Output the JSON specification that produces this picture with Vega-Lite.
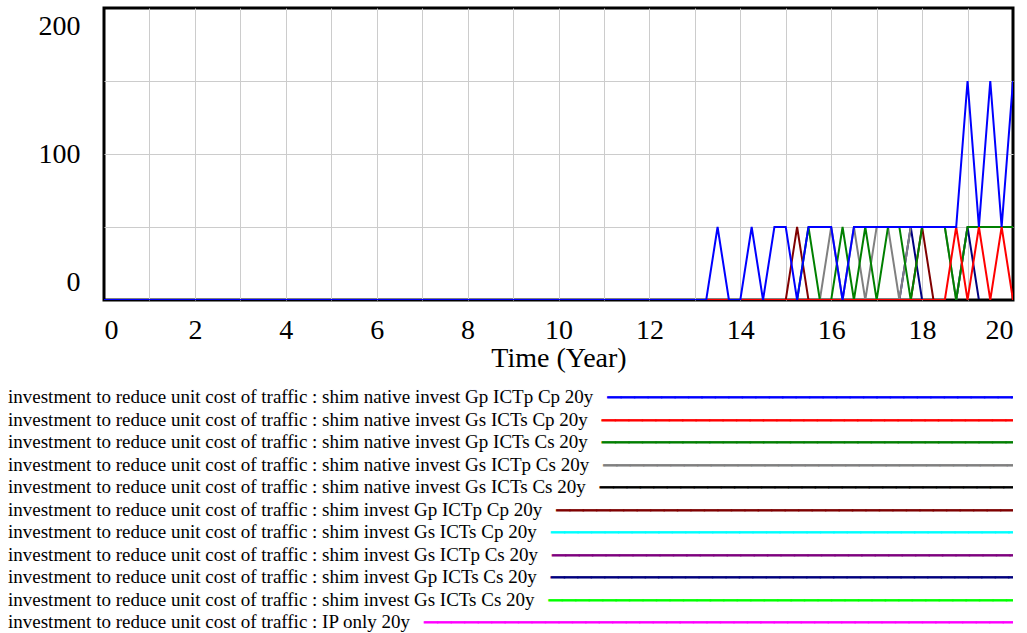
{
  "$schema": "https://vega.github.io/schema/vega-lite/v6.json",
  "padding": {"left": 6, "top": 6, "right": 0, "bottom": 0},
  "background": "white",
  "spacing": 12,
  "config": {
    "font": "Liberation Serif",
    "view": {"stroke": "black", "strokeWidth": 3},
    "axis": {
      "labelFont": "Liberation Serif", "titleFont": "Liberation Serif",
      "labelFontSize": 28, "titleFontSize": 28, "labelColor": "black", "titleColor": "black",
      "titleFontWeight": "normal", "ticks": false, "domain": false,
      "gridColor": "#cccccc", "gridWidth": 1
    }
  },
  "datasets": {
    "runs": [
      {"run": "IP only 20y", "t": 0, "v": 0}, {"run": "IP only 20y", "t": 20, "v": 0},
      {"run": "shim invest Gs ICTs Cs 20y", "t": 0, "v": 0}, {"run": "shim invest Gs ICTs Cs 20y", "t": 20, "v": 0},
      {"run": "shim invest Gs ICTp Cs 20y", "t": 0, "v": 0}, {"run": "shim invest Gs ICTp Cs 20y", "t": 20, "v": 0},
      {"run": "shim invest Gs ICTs Cp 20y", "t": 0, "v": 0}, {"run": "shim invest Gs ICTs Cp 20y", "t": 20, "v": 0},
      {"run": "shim invest Gp ICTs Cs 20y", "t": 0, "v": 0},
      {"run": "shim invest Gp ICTs Cs 20y", "t": 13, "v": 0}, {"run": "shim invest Gp ICTs Cs 20y", "t": 13.25, "v": 0},
      {"run": "shim invest Gp ICTs Cs 20y", "t": 13.5, "v": 0}, {"run": "shim invest Gp ICTs Cs 20y", "t": 13.75, "v": 0},
      {"run": "shim invest Gp ICTs Cs 20y", "t": 14, "v": 0}, {"run": "shim invest Gp ICTs Cs 20y", "t": 14.25, "v": 0},
      {"run": "shim invest Gp ICTs Cs 20y", "t": 14.5, "v": 0}, {"run": "shim invest Gp ICTs Cs 20y", "t": 14.75, "v": 0},
      {"run": "shim invest Gp ICTs Cs 20y", "t": 15, "v": 0}, {"run": "shim invest Gp ICTs Cs 20y", "t": 15.25, "v": 0},
      {"run": "shim invest Gp ICTs Cs 20y", "t": 15.5, "v": 0}, {"run": "shim invest Gp ICTs Cs 20y", "t": 15.75, "v": 0},
      {"run": "shim invest Gp ICTs Cs 20y", "t": 16, "v": 0}, {"run": "shim invest Gp ICTs Cs 20y", "t": 16.25, "v": 0},
      {"run": "shim invest Gp ICTs Cs 20y", "t": 16.5, "v": 0}, {"run": "shim invest Gp ICTs Cs 20y", "t": 16.75, "v": 0},
      {"run": "shim invest Gp ICTs Cs 20y", "t": 17, "v": 0}, {"run": "shim invest Gp ICTs Cs 20y", "t": 17.25, "v": 0},
      {"run": "shim invest Gp ICTs Cs 20y", "t": 17.5, "v": 0}, {"run": "shim invest Gp ICTs Cs 20y", "t": 17.75, "v": 50},
      {"run": "shim invest Gp ICTs Cs 20y", "t": 18, "v": 0}, {"run": "shim invest Gp ICTs Cs 20y", "t": 18.25, "v": 0},
      {"run": "shim invest Gp ICTs Cs 20y", "t": 18.5, "v": 0}, {"run": "shim invest Gp ICTs Cs 20y", "t": 18.75, "v": 0},
      {"run": "shim invest Gp ICTs Cs 20y", "t": 19, "v": 50}, {"run": "shim invest Gp ICTs Cs 20y", "t": 19.25, "v": 0},
      {"run": "shim invest Gp ICTs Cs 20y", "t": 19.5, "v": 0}, {"run": "shim invest Gp ICTs Cs 20y", "t": 19.75, "v": 0},
      {"run": "shim invest Gp ICTs Cs 20y", "t": 20, "v": 0},
      {"run": "shim invest Gp ICTp Cp 20y", "t": 0, "v": 0},
      {"run": "shim invest Gp ICTp Cp 20y", "t": 13, "v": 0}, {"run": "shim invest Gp ICTp Cp 20y", "t": 13.25, "v": 0},
      {"run": "shim invest Gp ICTp Cp 20y", "t": 13.5, "v": 0}, {"run": "shim invest Gp ICTp Cp 20y", "t": 13.75, "v": 0},
      {"run": "shim invest Gp ICTp Cp 20y", "t": 14, "v": 0}, {"run": "shim invest Gp ICTp Cp 20y", "t": 14.25, "v": 0},
      {"run": "shim invest Gp ICTp Cp 20y", "t": 14.5, "v": 0}, {"run": "shim invest Gp ICTp Cp 20y", "t": 14.75, "v": 0},
      {"run": "shim invest Gp ICTp Cp 20y", "t": 15, "v": 0}, {"run": "shim invest Gp ICTp Cp 20y", "t": 15.25, "v": 50},
      {"run": "shim invest Gp ICTp Cp 20y", "t": 15.5, "v": 0}, {"run": "shim invest Gp ICTp Cp 20y", "t": 15.75, "v": 0},
      {"run": "shim invest Gp ICTp Cp 20y", "t": 16, "v": 0}, {"run": "shim invest Gp ICTp Cp 20y", "t": 16.25, "v": 0},
      {"run": "shim invest Gp ICTp Cp 20y", "t": 16.5, "v": 0}, {"run": "shim invest Gp ICTp Cp 20y", "t": 16.75, "v": 0},
      {"run": "shim invest Gp ICTp Cp 20y", "t": 17, "v": 0}, {"run": "shim invest Gp ICTp Cp 20y", "t": 17.25, "v": 0},
      {"run": "shim invest Gp ICTp Cp 20y", "t": 17.5, "v": 0}, {"run": "shim invest Gp ICTp Cp 20y", "t": 17.75, "v": 0},
      {"run": "shim invest Gp ICTp Cp 20y", "t": 18, "v": 50}, {"run": "shim invest Gp ICTp Cp 20y", "t": 18.25, "v": 0},
      {"run": "shim invest Gp ICTp Cp 20y", "t": 18.5, "v": 0}, {"run": "shim invest Gp ICTp Cp 20y", "t": 18.75, "v": 0},
      {"run": "shim invest Gp ICTp Cp 20y", "t": 19, "v": 0}, {"run": "shim invest Gp ICTp Cp 20y", "t": 19.25, "v": 0},
      {"run": "shim invest Gp ICTp Cp 20y", "t": 19.5, "v": 0}, {"run": "shim invest Gp ICTp Cp 20y", "t": 19.75, "v": 0},
      {"run": "shim invest Gp ICTp Cp 20y", "t": 20, "v": 0},
      {"run": "shim native invest Gs ICTs Cs 20y", "t": 0, "v": 0}, {"run": "shim native invest Gs ICTs Cs 20y", "t": 20, "v": 0},
      {"run": "shim native invest Gs ICTp Cs 20y", "t": 0, "v": 0},
      {"run": "shim native invest Gs ICTp Cs 20y", "t": 13, "v": 0}, {"run": "shim native invest Gs ICTp Cs 20y", "t": 13.25, "v": 0},
      {"run": "shim native invest Gs ICTp Cs 20y", "t": 13.5, "v": 0}, {"run": "shim native invest Gs ICTp Cs 20y", "t": 13.75, "v": 0},
      {"run": "shim native invest Gs ICTp Cs 20y", "t": 14, "v": 0}, {"run": "shim native invest Gs ICTp Cs 20y", "t": 14.25, "v": 0},
      {"run": "shim native invest Gs ICTp Cs 20y", "t": 14.5, "v": 0}, {"run": "shim native invest Gs ICTp Cs 20y", "t": 14.75, "v": 0},
      {"run": "shim native invest Gs ICTp Cs 20y", "t": 15, "v": 0}, {"run": "shim native invest Gs ICTp Cs 20y", "t": 15.25, "v": 0},
      {"run": "shim native invest Gs ICTp Cs 20y", "t": 15.5, "v": 0}, {"run": "shim native invest Gs ICTp Cs 20y", "t": 15.75, "v": 0},
      {"run": "shim native invest Gs ICTp Cs 20y", "t": 16, "v": 50}, {"run": "shim native invest Gs ICTp Cs 20y", "t": 16.25, "v": 0},
      {"run": "shim native invest Gs ICTp Cs 20y", "t": 16.5, "v": 50}, {"run": "shim native invest Gs ICTp Cs 20y", "t": 16.75, "v": 0},
      {"run": "shim native invest Gs ICTp Cs 20y", "t": 17, "v": 50}, {"run": "shim native invest Gs ICTp Cs 20y", "t": 17.25, "v": 50},
      {"run": "shim native invest Gs ICTp Cs 20y", "t": 17.5, "v": 0}, {"run": "shim native invest Gs ICTp Cs 20y", "t": 17.75, "v": 50},
      {"run": "shim native invest Gs ICTp Cs 20y", "t": 18, "v": 50}, {"run": "shim native invest Gs ICTp Cs 20y", "t": 18.25, "v": 50},
      {"run": "shim native invest Gs ICTp Cs 20y", "t": 18.5, "v": 50}, {"run": "shim native invest Gs ICTp Cs 20y", "t": 18.75, "v": 0},
      {"run": "shim native invest Gs ICTp Cs 20y", "t": 19, "v": 50}, {"run": "shim native invest Gs ICTp Cs 20y", "t": 19.25, "v": 50},
      {"run": "shim native invest Gs ICTp Cs 20y", "t": 19.5, "v": 50}, {"run": "shim native invest Gs ICTp Cs 20y", "t": 19.75, "v": 50},
      {"run": "shim native invest Gs ICTp Cs 20y", "t": 20, "v": 50},
      {"run": "shim native invest Gp ICTs Cs 20y", "t": 0, "v": 0},
      {"run": "shim native invest Gp ICTs Cs 20y", "t": 13, "v": 0}, {"run": "shim native invest Gp ICTs Cs 20y", "t": 13.25, "v": 0},
      {"run": "shim native invest Gp ICTs Cs 20y", "t": 13.5, "v": 0}, {"run": "shim native invest Gp ICTs Cs 20y", "t": 13.75, "v": 0},
      {"run": "shim native invest Gp ICTs Cs 20y", "t": 14, "v": 0}, {"run": "shim native invest Gp ICTs Cs 20y", "t": 14.25, "v": 0},
      {"run": "shim native invest Gp ICTs Cs 20y", "t": 14.5, "v": 0}, {"run": "shim native invest Gp ICTs Cs 20y", "t": 14.75, "v": 0},
      {"run": "shim native invest Gp ICTs Cs 20y", "t": 15, "v": 0}, {"run": "shim native invest Gp ICTs Cs 20y", "t": 15.25, "v": 0},
      {"run": "shim native invest Gp ICTs Cs 20y", "t": 15.5, "v": 50}, {"run": "shim native invest Gp ICTs Cs 20y", "t": 15.75, "v": 0},
      {"run": "shim native invest Gp ICTs Cs 20y", "t": 16, "v": 0}, {"run": "shim native invest Gp ICTs Cs 20y", "t": 16.25, "v": 50},
      {"run": "shim native invest Gp ICTs Cs 20y", "t": 16.5, "v": 0}, {"run": "shim native invest Gp ICTs Cs 20y", "t": 16.75, "v": 50},
      {"run": "shim native invest Gp ICTs Cs 20y", "t": 17, "v": 0}, {"run": "shim native invest Gp ICTs Cs 20y", "t": 17.25, "v": 50},
      {"run": "shim native invest Gp ICTs Cs 20y", "t": 17.5, "v": 50}, {"run": "shim native invest Gp ICTs Cs 20y", "t": 17.75, "v": 0},
      {"run": "shim native invest Gp ICTs Cs 20y", "t": 18, "v": 50}, {"run": "shim native invest Gp ICTs Cs 20y", "t": 18.25, "v": 50},
      {"run": "shim native invest Gp ICTs Cs 20y", "t": 18.5, "v": 50}, {"run": "shim native invest Gp ICTs Cs 20y", "t": 18.75, "v": 0},
      {"run": "shim native invest Gp ICTs Cs 20y", "t": 19, "v": 50}, {"run": "shim native invest Gp ICTs Cs 20y", "t": 19.25, "v": 50},
      {"run": "shim native invest Gp ICTs Cs 20y", "t": 19.5, "v": 50}, {"run": "shim native invest Gp ICTs Cs 20y", "t": 19.75, "v": 50},
      {"run": "shim native invest Gp ICTs Cs 20y", "t": 20, "v": 50},
      {"run": "shim native invest Gs ICTs Cp 20y", "t": 0, "v": 0},
      {"run": "shim native invest Gs ICTs Cp 20y", "t": 13, "v": 0}, {"run": "shim native invest Gs ICTs Cp 20y", "t": 13.25, "v": 0},
      {"run": "shim native invest Gs ICTs Cp 20y", "t": 13.5, "v": 0}, {"run": "shim native invest Gs ICTs Cp 20y", "t": 13.75, "v": 0},
      {"run": "shim native invest Gs ICTs Cp 20y", "t": 14, "v": 0}, {"run": "shim native invest Gs ICTs Cp 20y", "t": 14.25, "v": 0},
      {"run": "shim native invest Gs ICTs Cp 20y", "t": 14.5, "v": 0}, {"run": "shim native invest Gs ICTs Cp 20y", "t": 14.75, "v": 0},
      {"run": "shim native invest Gs ICTs Cp 20y", "t": 15, "v": 0}, {"run": "shim native invest Gs ICTs Cp 20y", "t": 15.25, "v": 0},
      {"run": "shim native invest Gs ICTs Cp 20y", "t": 15.5, "v": 0}, {"run": "shim native invest Gs ICTs Cp 20y", "t": 15.75, "v": 0},
      {"run": "shim native invest Gs ICTs Cp 20y", "t": 16, "v": 0}, {"run": "shim native invest Gs ICTs Cp 20y", "t": 16.25, "v": 0},
      {"run": "shim native invest Gs ICTs Cp 20y", "t": 16.5, "v": 0}, {"run": "shim native invest Gs ICTs Cp 20y", "t": 16.75, "v": 0},
      {"run": "shim native invest Gs ICTs Cp 20y", "t": 17, "v": 0}, {"run": "shim native invest Gs ICTs Cp 20y", "t": 17.25, "v": 0},
      {"run": "shim native invest Gs ICTs Cp 20y", "t": 17.5, "v": 0}, {"run": "shim native invest Gs ICTs Cp 20y", "t": 17.75, "v": 0},
      {"run": "shim native invest Gs ICTs Cp 20y", "t": 18, "v": 0}, {"run": "shim native invest Gs ICTs Cp 20y", "t": 18.25, "v": 0},
      {"run": "shim native invest Gs ICTs Cp 20y", "t": 18.5, "v": 0}, {"run": "shim native invest Gs ICTs Cp 20y", "t": 18.75, "v": 50},
      {"run": "shim native invest Gs ICTs Cp 20y", "t": 19, "v": 0}, {"run": "shim native invest Gs ICTs Cp 20y", "t": 19.25, "v": 50},
      {"run": "shim native invest Gs ICTs Cp 20y", "t": 19.5, "v": 0}, {"run": "shim native invest Gs ICTs Cp 20y", "t": 19.75, "v": 50},
      {"run": "shim native invest Gs ICTs Cp 20y", "t": 20, "v": 0},
      {"run": "shim native invest Gp ICTp Cp 20y", "t": 0, "v": 0},
      {"run": "shim native invest Gp ICTp Cp 20y", "t": 13, "v": 0}, {"run": "shim native invest Gp ICTp Cp 20y", "t": 13.25, "v": 0},
      {"run": "shim native invest Gp ICTp Cp 20y", "t": 13.5, "v": 50}, {"run": "shim native invest Gp ICTp Cp 20y", "t": 13.75, "v": 0},
      {"run": "shim native invest Gp ICTp Cp 20y", "t": 14, "v": 0}, {"run": "shim native invest Gp ICTp Cp 20y", "t": 14.25, "v": 50},
      {"run": "shim native invest Gp ICTp Cp 20y", "t": 14.5, "v": 0}, {"run": "shim native invest Gp ICTp Cp 20y", "t": 14.75, "v": 50},
      {"run": "shim native invest Gp ICTp Cp 20y", "t": 15, "v": 50}, {"run": "shim native invest Gp ICTp Cp 20y", "t": 15.25, "v": 0},
      {"run": "shim native invest Gp ICTp Cp 20y", "t": 15.5, "v": 50}, {"run": "shim native invest Gp ICTp Cp 20y", "t": 15.75, "v": 50},
      {"run": "shim native invest Gp ICTp Cp 20y", "t": 16, "v": 50}, {"run": "shim native invest Gp ICTp Cp 20y", "t": 16.25, "v": 0},
      {"run": "shim native invest Gp ICTp Cp 20y", "t": 16.5, "v": 50}, {"run": "shim native invest Gp ICTp Cp 20y", "t": 16.75, "v": 50},
      {"run": "shim native invest Gp ICTp Cp 20y", "t": 17, "v": 50}, {"run": "shim native invest Gp ICTp Cp 20y", "t": 17.25, "v": 50},
      {"run": "shim native invest Gp ICTp Cp 20y", "t": 17.5, "v": 50}, {"run": "shim native invest Gp ICTp Cp 20y", "t": 17.75, "v": 50},
      {"run": "shim native invest Gp ICTp Cp 20y", "t": 18, "v": 50}, {"run": "shim native invest Gp ICTp Cp 20y", "t": 18.25, "v": 50},
      {"run": "shim native invest Gp ICTp Cp 20y", "t": 18.5, "v": 50}, {"run": "shim native invest Gp ICTp Cp 20y", "t": 18.75, "v": 50},
      {"run": "shim native invest Gp ICTp Cp 20y", "t": 19, "v": 150}, {"run": "shim native invest Gp ICTp Cp 20y", "t": 19.25, "v": 50},
      {"run": "shim native invest Gp ICTp Cp 20y", "t": 19.5, "v": 150}, {"run": "shim native invest Gp ICTp Cp 20y", "t": 19.75, "v": 50},
      {"run": "shim native invest Gp ICTp Cp 20y", "t": 20, "v": 150}
    ],
    "legend": [
      {"run": "shim native invest Gp ICTp Cp 20y", "label": "investment to reduce unit cost of traffic : shim native invest Gp ICTp Cp 20y"},
      {"run": "shim native invest Gs ICTs Cp 20y", "label": "investment to reduce unit cost of traffic : shim native invest Gs ICTs Cp 20y"},
      {"run": "shim native invest Gp ICTs Cs 20y", "label": "investment to reduce unit cost of traffic : shim native invest Gp ICTs Cs 20y"},
      {"run": "shim native invest Gs ICTp Cs 20y", "label": "investment to reduce unit cost of traffic : shim native invest Gs ICTp Cs 20y"},
      {"run": "shim native invest Gs ICTs Cs 20y", "label": "investment to reduce unit cost of traffic : shim native invest Gs ICTs Cs 20y"},
      {"run": "shim invest Gp ICTp Cp 20y", "label": "investment to reduce unit cost of traffic : shim invest Gp ICTp Cp 20y"},
      {"run": "shim invest Gs ICTs Cp 20y", "label": "investment to reduce unit cost of traffic : shim invest Gs ICTs Cp 20y"},
      {"run": "shim invest Gs ICTp Cs 20y", "label": "investment to reduce unit cost of traffic : shim invest Gs ICTp Cs 20y"},
      {"run": "shim invest Gp ICTs Cs 20y", "label": "investment to reduce unit cost of traffic : shim invest Gp ICTs Cs 20y"},
      {"run": "shim invest Gs ICTs Cs 20y", "label": "investment to reduce unit cost of traffic : shim invest Gs ICTs Cs 20y"},
      {"run": "IP only 20y", "label": "investment to reduce unit cost of traffic : IP only 20y"}
    ]
  },
  "vconcat": [
    {
      "width": 909,
      "height": 292,
      "data": {"name": "runs"},
      "mark": {"type": "line", "strokeWidth": 2, "clip": true},
      "encoding": {
        "x": {
          "field": "t", "type": "quantitative",
          "scale": {"domain": [0, 20], "nice": false, "zero": false},
          "axis": {
            "title": "Time (Year)",
            "values": [0,1,2,3,4,5,6,7,8,9,10,11,12,13,14,15,16,17,18,19,20],
            "labelExpr": "datum.value % 2 == 0 ? datum.label : ''",
            "labelOverlap": false, "labelPadding": 16, "titlePadding": 0,
            "grid": true,
            "gridOpacity": {"condition": {"test": "datum.value == 0 || datum.value == 20", "value": 0}, "value": 1}
          }
        },
        "y": {
          "field": "v", "type": "quantitative",
          "scale": {"domain": [0, 200], "nice": false},
          "axis": {
            "title": null,
            "values": [0, 50, 100, 150, 200],
            "labelExpr": "datum.value % 100 == 0 ? datum.label : ''",
            "labelOverlap": false, "labelFlush": true, "labelFlushOffset": -4, "labelPadding": 24, "minExtent": 96,
            "grid": true,
            "gridOpacity": {"condition": {"test": "datum.value == 0 || datum.value == 200", "value": 0}, "value": 1}
          }
        },
        "color": {
          "field": "run", "type": "nominal",
          "scale": {
            "domain": ["shim native invest Gp ICTp Cp 20y", "shim native invest Gs ICTs Cp 20y", "shim native invest Gp ICTs Cs 20y", "shim native invest Gs ICTp Cs 20y", "shim native invest Gs ICTs Cs 20y", "shim invest Gp ICTp Cp 20y", "shim invest Gs ICTs Cp 20y", "shim invest Gs ICTp Cs 20y", "shim invest Gp ICTs Cs 20y", "shim invest Gs ICTs Cs 20y", "IP only 20y"],
            "range": ["#0000ff", "#ff0000", "#008000", "#808080", "#000000", "#800000", "#00ffff", "#800080", "#000080", "#00ff00", "#ff00ff"]
          },
          "legend": null
        }
      }
    },
    {
      "width": 909,
      "height": 247.5,
      "view": {"stroke": null},
      "data": {"name": "legend"},
      "encoding": {
        "y": {"field": "label", "type": "nominal", "sort": null, "axis": null, "scale": {"paddingInner": 0, "paddingOuter": 0}},
        "x": {"datum": 0, "type": "quantitative", "axis": null, "scale": {"domain": [0, 1005], "range": [-96, 909]}}
      },
      "layer": [
        {
          "mark": {
            "type": "text", "align": "left", "baseline": "middle", "fontSize": 19, "strokeWidth": 0.9,
            "font": "Liberation Serif, DejaVu Sans", "clip": true,
            "text": {"expr": "datum.label + '\u00a0\u00a0\u00a0' + '────────────────────────────────────────────────────────────────────────────────'"}
          },
          "encoding": {
            "color": {
              "field": "run", "type": "nominal",
              "scale": {
                "domain": ["shim native invest Gp ICTp Cp 20y", "shim native invest Gs ICTs Cp 20y", "shim native invest Gp ICTs Cs 20y", "shim native invest Gs ICTp Cs 20y", "shim native invest Gs ICTs Cs 20y", "shim invest Gp ICTp Cp 20y", "shim invest Gs ICTs Cp 20y", "shim invest Gs ICTp Cs 20y", "shim invest Gp ICTs Cs 20y", "shim invest Gs ICTs Cs 20y", "IP only 20y"],
                "range": ["#0000ff", "#ff0000", "#008000", "#808080", "#000000", "#800000", "#00ffff", "#800080", "#000080", "#00ff00", "#ff00ff"]
              },
              "legend": null
            },
            "stroke": {
              "field": "run", "type": "nominal",
              "scale": {
                "domain": ["shim native invest Gp ICTp Cp 20y", "shim native invest Gs ICTs Cp 20y", "shim native invest Gp ICTs Cs 20y", "shim native invest Gs ICTp Cs 20y", "shim native invest Gs ICTs Cs 20y", "shim invest Gp ICTp Cp 20y", "shim invest Gs ICTs Cp 20y", "shim invest Gs ICTp Cs 20y", "shim invest Gp ICTs Cs 20y", "shim invest Gs ICTs Cs 20y", "IP only 20y"],
                "range": ["#0000ff", "#ff0000", "#008000", "#808080", "#000000", "#800000", "#00ffff", "#800080", "#000080", "#00ff00", "#ff00ff"]
              },
              "legend": null
            }
          }
        },
        {
          "mark": {"type": "text", "align": "left", "baseline": "middle", "fontSize": 19, "font": "Liberation Serif", "color": "white", "stroke": "white", "strokeWidth": 2.2},
          "encoding": {"text": {"field": "label", "type": "nominal"}}
        },
        {
          "mark": {"type": "text", "align": "left", "baseline": "middle", "fontSize": 19, "font": "Liberation Serif", "color": "black"},
          "encoding": {"text": {"field": "label", "type": "nominal"}}
        }
      ]
    }
  ]
}
